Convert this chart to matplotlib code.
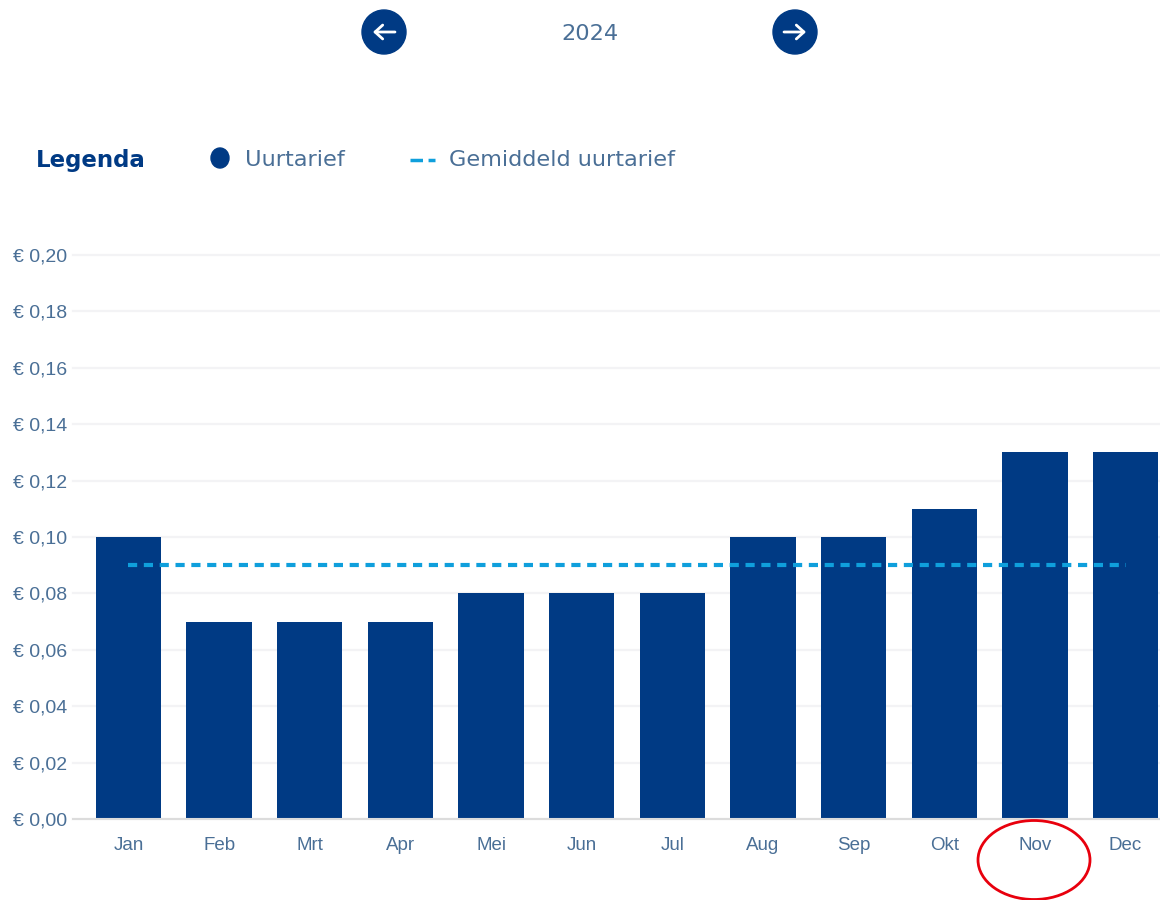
import matplotlib

matplotlib.use("Agg")
import matplotlib.pyplot as plt
from matplotlib.patches import Circle, Ellipse

months = ["Jan", "Feb", "Mrt", "Apr", "Mei", "Jun", "Jul", "Aug", "Sep", "Okt", "Nov", "Dec"]
rates = [0.10, 0.07, 0.07, 0.07, 0.08, 0.08, 0.08, 0.10, 0.10, 0.11, 0.13, 0.13]
average = [0.09] * 12
y_ticks = [0.00, 0.02, 0.04, 0.06, 0.08, 0.10, 0.12, 0.14, 0.16, 0.18, 0.20]
year = "2024"

NAVY = "#003a84"
TEXT = "#4a6f96"
CYAN = "#0f9fdc"
W, H = 1160, 900

plt.rcParams["font.family"] = ["Liberation Sans", "DejaVu Sans"]
fig = plt.figure(figsize=(W / 100, H / 100), dpi=100)

# chart area, placed in pixels
left, right, top, bottom = 73, 1160, 255, 819
ax = fig.add_axes([left / W, 1 - bottom / H, (right - left) / W, (bottom - top) / H])
ax.bar(range(12), rates, width=0.72, color=NAVY, zorder=2)
ax.plot(range(12), average, color=CYAN, linewidth=3, dashes=(2.2, 1.6), zorder=3)
ax.set_xlim(-0.612, 11.38)
ax.set_ylim(0, 0.20)
ax.set_yticks(y_ticks)
ax.set_yticklabels([f"€ {v:.2f}".replace(".", ",") for v in y_ticks], fontsize=14, color=TEXT)
ax.set_xticks(range(12))
ax.set_xticklabels(months, fontsize=13.5, color=TEXT)
ax.tick_params(axis="both", length=0)
ax.tick_params(axis="x", pad=13)
ax.tick_params(axis="y", pad=4)
ax.grid(axis="y", color="#f3f3f5", linewidth=1.6, zorder=0, clip_on=False)
ax.set_axisbelow(True)
for name in ["top", "left", "right"]:
    ax.spines[name].set_visible(False)
ax.spines["bottom"].set_color("#dcdcdc")
ax.spines["bottom"].set_linewidth(1.5)

# header, legend and the hand-drawn circle live in an overlay in pixel coordinates
over = fig.add_axes([0, 0, 1, 1], facecolor="none")
over.set_xlim(0, W)
over.set_ylim(H, 0)
over.axis("off")

for cx, direction in [(384, -1), (795, 1)]:
    over.add_patch(Circle((cx, 32), 22, color=NAVY))
    over.annotate("", xy=(cx + direction * 11, 32), xytext=(cx - direction * 11, 32),
                  arrowprops=dict(arrowstyle="->,head_length=0.55,head_width=0.5", color="white",
                                  linewidth=2, shrinkA=0, shrinkB=0))
over.text(590, 34, year, color=TEXT, fontsize=16.2, ha="center", va="center",
          family="DejaVu Sans")

over.text(36, 160, "Legenda", color=NAVY, fontsize=16.5, fontweight="bold", va="center",
          family="DejaVu Sans")
over.add_patch(Ellipse((220, 158), 18, 20, color=NAVY))
over.text(245, 160, "Uurtarief", color=TEXT, fontsize=16.2, va="center", family="DejaVu Sans")
over.plot([410, 435], [160, 160], color=CYAN, linewidth=2.5, dashes=(3.6, 1.6))
over.text(449, 160, "Gemiddeld uurtarief", color=TEXT, fontsize=16.1, va="center",
          family="DejaVu Sans")

over.add_patch(Ellipse((1034, 860), 112, 79, fill=False, edgecolor="#e8000d", linewidth=2))

fig.savefig("out.png", dpi=100)
plt.close(fig)
